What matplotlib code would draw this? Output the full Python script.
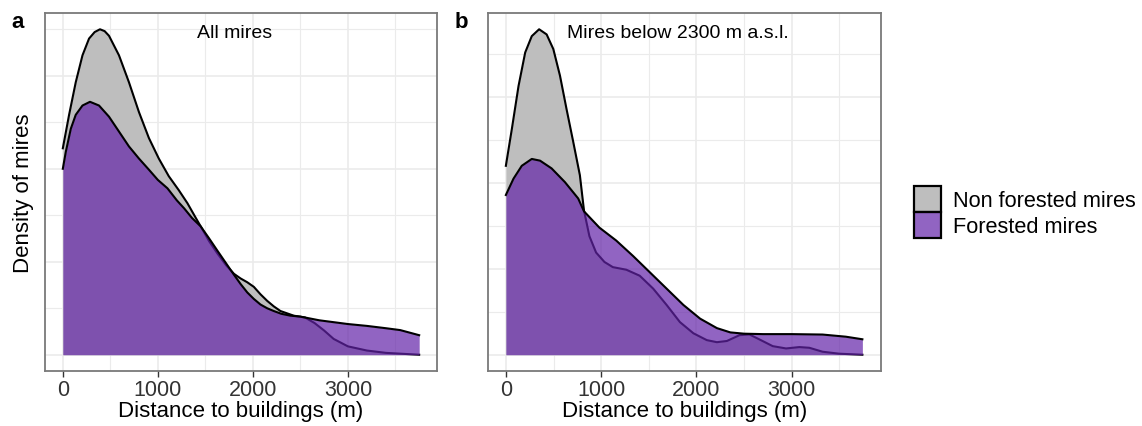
import numpy as np
import matplotlib
matplotlib.use("Agg")
import matplotlib.pyplot as plt
from matplotlib.patches import Patch
from matplotlib.ticker import MultipleLocator

plt.rcParams['font.family'] = ['Liberation Sans', 'DejaVu Sans']

# panel a: all mires (density, arbitrary units)
a_non_x = [0, 66, 136, 207, 276, 335, 391, 440, 486, 591, 696, 801, 906, 1010, 1115, 1220,
           1311, 1400, 1451, 1540, 1626, 1720, 1801, 1871, 1940, 2010, 2080, 2150, 2220,
           2290, 2430, 2550, 2650, 2750, 2850, 3000, 3200, 3400, 3750]
a_non_y = [2.22, 2.58, 2.93, 3.22, 3.40, 3.47, 3.50, 3.48, 3.43, 3.22, 2.93, 2.61, 2.33, 2.11, 1.92, 1.77,
           1.63, 1.47, 1.38, 1.22, 1.09, 0.96, 0.87, 0.82, 0.78, 0.73, 0.65, 0.58, 0.52,
           0.47, 0.42, 0.40, 0.34, 0.26, 0.17, 0.09, 0.045, 0.02, 0.0]
a_for_x = [0, 31, 84, 136, 207, 286, 381, 486, 591, 696, 801, 906, 1000, 1101, 1200, 1276,
           1360, 1451, 1540, 1626, 1720, 1801, 1871, 1941, 2010, 2080, 2150, 2220, 2300,
           2395, 2500, 2700, 2850, 3000, 3200, 3400, 3550, 3750]
a_for_y = [2.0, 2.18, 2.43, 2.58, 2.68, 2.72, 2.68, 2.56, 2.40, 2.24, 2.11, 1.99, 1.88, 1.79, 1.66, 1.575,
           1.47, 1.38, 1.25, 1.12, 0.98, 0.86, 0.76, 0.67, 0.60, 0.54, 0.50, 0.47, 0.44,
           0.42, 0.41, 0.37, 0.35, 0.33, 0.31, 0.285, 0.265, 0.21]

# panel b: mires below 2300 m a.s.l.
b_non_x = [0, 63, 133, 203, 272, 349, 428, 498, 568, 637, 707, 777, 820, 877, 947, 1035, 1123,
           1264, 1405, 1546, 1687, 1827, 1968, 2109, 2215, 2320, 2453, 2557, 2662, 2801,
           2941, 3080, 3185, 3324, 3498, 3742]
b_non_y = [2.20, 2.63, 3.13, 3.52, 3.71, 3.79, 3.73, 3.56, 3.25, 2.86, 2.48, 2.09, 1.68, 1.38, 1.19, 1.08, 1.02,
           0.99, 0.92, 0.77, 0.58, 0.38, 0.25, 0.17, 0.146, 0.16, 0.228, 0.236, 0.178, 0.10,
           0.073, 0.089, 0.081, 0.035, 0.012, 0.0]
b_for_x = [0, 80, 167, 272, 359, 480, 620, 759, 820, 982, 1158, 1335, 1511, 1687, 1863, 2039,
           2215, 2356, 2500, 2700, 3000, 3324, 3568, 3742]
b_for_y = [1.86, 2.05, 2.20, 2.28, 2.26, 2.17, 2.01, 1.82, 1.67, 1.48, 1.33, 1.15, 0.96, 0.77, 0.58, 0.42,
           0.31, 0.26, 0.245, 0.24, 0.24, 0.235, 0.21, 0.18]

labels = ['Non forested mires', 'Forested mires']
titles = ['All mires', 'Mires below 2300 m a.s.l.']
panel_tags = ['a', 'b']

grey = '#bebebe'
purple = '#6323a8'
alpha = 0.7

fig = plt.figure(figsize=(11.42, 4.27), dpi=100)
ax_a = fig.add_axes([45/1142, 1-372/427, 392/1142, 358/427])
ax_b = fig.add_axes([488/1142, 1-372/427, 393/1142, 358/427])

panels = [(ax_a, a_non_x, a_non_y, a_for_x, a_for_y),
          (ax_b, b_non_x, b_non_y, b_for_x, b_for_y)]

for i, (ax, nx, ny, fx, fy) in enumerate(panels):
    ax.fill_between(nx, 0, ny, color=grey, lw=0, zorder=2)
    ax.plot(nx, ny, color='black', lw=1.5, zorder=3, solid_joinstyle='round')
    ax.fill_between(fx, 0, fy, color=purple, alpha=alpha, lw=0, zorder=4)
    ax.plot(fx, fy, color='black', lw=1.5, zorder=5, solid_joinstyle='round')

    ymax = max(max(ny), max(fy))
    ax.set_xlim(-187.5, 3937.5)
    ax.set_ylim(-0.05*ymax, 1.05*ymax)
    ax.xaxis.set_major_locator(MultipleLocator(1000))
    ax.xaxis.set_minor_locator(MultipleLocator(500))
    ax.yaxis.set_major_locator(MultipleLocator(1))
    ax.yaxis.set_minor_locator(MultipleLocator(0.5))
    ax.grid(which='major', color='#ebebeb', lw=1.2, zorder=0)
    ax.grid(which='minor', color='#ebebeb', lw=0.8, zorder=0)
    ax.set_axisbelow(True)
    ax.tick_params(axis='x', which='major', length=4, width=1, color='#333333',
                   labelsize=15.5, labelcolor='#333333', pad=2)
    ax.tick_params(axis='x', which='minor', length=0)
    ax.tick_params(axis='y', which='both', length=0, labelleft=False)
    for s in ax.spines.values():
        s.set_color('#7a7a7a')
        s.set_linewidth(1.3)
    ax.set_xlabel('Distance to buildings (m)', fontsize=16, color='black', labelpad=0)
    ax.text(1810, 0.945, titles[i], transform=ax.get_xaxis_transform(),
            ha='center', va='center', fontsize=14)

ax_a.set_ylabel('Density of mires', fontsize=16, labelpad=8)

fig.text(11/1142, 1-22/427, panel_tags[0], fontsize=16, fontweight='bold', ha='left', va='center')
fig.text(455/1142, 1-22/427, panel_tags[1], fontsize=16, fontweight='bold', ha='left', va='center')

handles = [Patch(facecolor=grey, edgecolor='black', lw=1.6),
           Patch(facecolor=matplotlib.colors.to_rgba(purple, alpha), edgecolor='black', lw=1.6)]
fig.legend(handles, labels, loc='center left', bbox_to_anchor=(903/1142, 1-213/427),
           frameon=False, fontsize=15.7, handlelength=1.25, handleheight=1.45,
           labelspacing=0.0, handletextpad=0.55, borderpad=0)

fig.savefig('out.png', dpi=100)
